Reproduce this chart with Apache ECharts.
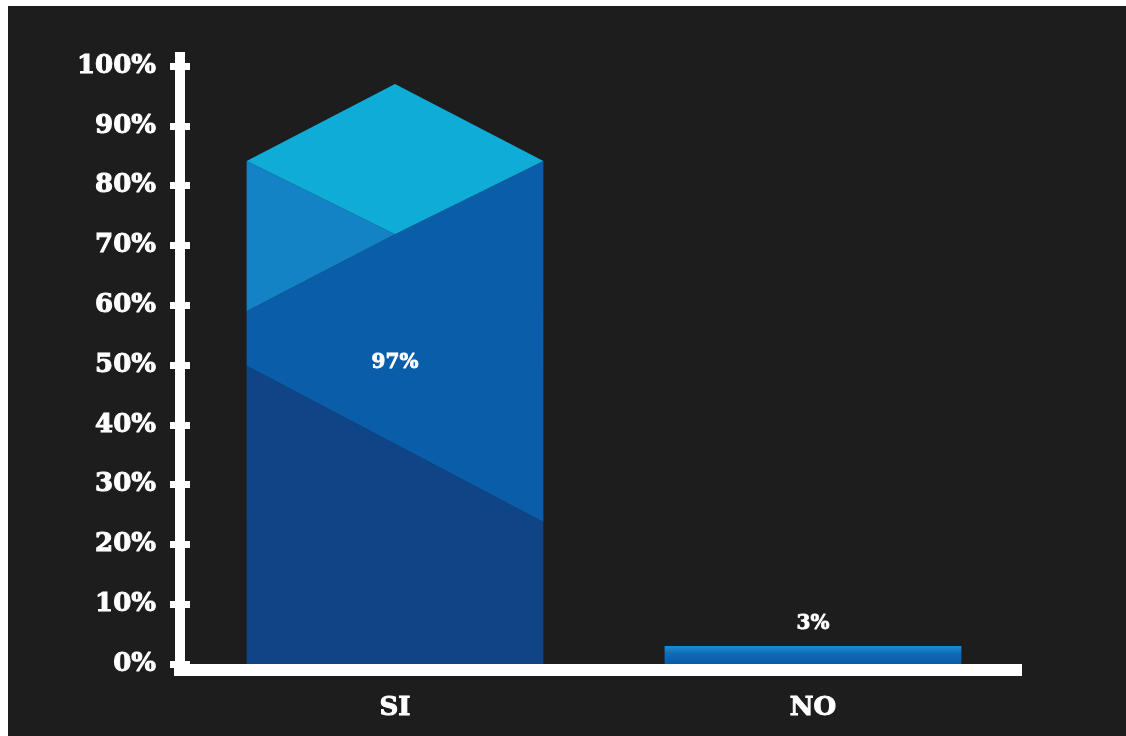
<!DOCTYPE html>
<html>
<head>
<meta charset="utf-8">
<script src="https://cdn.jsdelivr.net/npm/echarts@6/dist/echarts.min.js"></script>
<style>
  html, body { margin: 0; padding: 0; background: #ffffff; width: 1126px; height: 736px; overflow: hidden; }
  #chart { position: absolute; left: 8px; top: 6px; width: 1118px; height: 730px; background: #1d1d1d; }
</style>
</head>
<body>
<div id="chart"></div>
<script>
// ---- data ----
const categories = ['SI', 'NO'];
const values = [97, 3];
const yTickValues = [0, 10, 20, 30, 40, 50, 60, 70, 80, 90, 100];

const FONT = '"DejaVu Serif", "Liberation Serif", serif';
const chart = echarts.init(document.getElementById('chart'), null, { renderer: 'canvas' });

function renderBar(params, api) {
  const idx = api.value(0);
  const v = api.value(1);
  const base = api.coord([idx, 0]);
  const top = api.coord([idx, v]);
  const bw = api.size([1, 0])[0] * 0.71;
  const C = base[0], L = C - bw / 2, R = C + bw / 2;
  const y0 = base[1];
  const H = y0 - top[1];
  const children = [];
  const label = v + '%';
  const textStyle = { fill: '#ffffff', fontSize: 20, fontWeight: 'bold', fontFamily: FONT, stroke: '#ffffff', lineWidth: 0.8, align: 'center', verticalAlign: 'middle' };
  if (H > bw * 0.6) {
    const y = f => y0 - f * H;
    children.push({ type: 'polygon', shape: { points: [[L, y(0.514)], [R, y(0.245)], [R, y0], [L, y0]] }, style: { fill: '#0f4587' } });
    children.push({ type: 'polygon', shape: { points: [[L, y(0.608)], [C, y(0.741)], [R, y(0.867)], [R, y(0.245)], [L, y(0.514)]] }, style: { fill: '#0a5da8' } });
    children.push({ type: 'polygon', shape: { points: [[L, y(0.867)], [C, y(0.741)], [L, y(0.608)]] }, style: { fill: '#1383c5' } });
    children.push({ type: 'polygon', shape: { points: [[L, y(0.867)], [C, y(1)], [R, y(0.867)], [C, y(0.741)]] }, style: { fill: '#10acd8' } });
    children.push({ type: 'text', style: Object.assign({ text: label, x: C, y: y(0.52) }, textStyle) });
  } else {
    children.push({ type: 'rect', shape: { x: L, y: top[1], width: bw, height: H },
      style: { fill: new echarts.graphic.LinearGradient(0, 0, 0, 1, [{ offset: 0, color: '#1a8fd2' }, { offset: 0.4, color: '#0f6cb8' }, { offset: 1, color: '#0b5aa5' }]) } });
    children.push({ type: 'text', style: Object.assign({ text: label, x: C, y: top[1] - 22 }, textStyle) });
  }
  return { type: 'group', children };
}

const yMax = 102.34;
const option = {
  backgroundColor: '#1d1d1d',
  animation: false,
  grid: { left: 178, right: 104, top: 46, bottom: 72 },
  xAxis: {
    type: 'category',
    data: categories,
    offset: 6,
    axisLine: { show: true, onZero: false, lineStyle: { color: '#ffffff', width: 12, cap: 'butt' } },
    axisTick: { show: false },
    splitLine: { show: false },
    axisLabel: { color: '#ffffff', fontFamily: FONT, fontWeight: 'bold', fontSize: 26, margin: 25, textBorderColor: '#ffffff', textBorderWidth: 1 }
  },
  yAxis: [
    {
      type: 'value', min: 0, max: yMax, offset: 6,
      axisLine: { show: true, lineStyle: { color: '#ffffff', width: 10, cap: 'butt' } },
      axisTick: { show: true, length: 10, customValues: yTickValues, lineStyle: { color: '#ffffff', width: 7 } },
      axisLabel: { customValues: yTickValues, formatter: '{value}%', color: '#ffffff', fontFamily: FONT, fontWeight: 'bold', fontSize: 26, margin: 24, textBorderColor: '#ffffff', textBorderWidth: 1 },
      splitLine: { show: false }
    },
    {
      type: 'value', min: 0, max: yMax, offset: 6, position: 'left',
      axisLine: { show: false },
      axisTick: { show: true, inside: true, length: 10, customValues: yTickValues, lineStyle: { color: '#ffffff', width: 7 } },
      axisLabel: { show: false },
      splitLine: { show: false }
    }
  ],
  graphic: [
    { type: 'rect', shape: { x: 166, y: 658, width: 14, height: 12 }, style: { fill: '#ffffff' }, z: 100 }
  ],
  series: [{
    type: 'custom',
    renderItem: renderBar,
    data: categories.map((c, i) => [i, values[i]]),
    z: 1
  }]
};
chart.setOption(option);
</script>
</body>
</html>
